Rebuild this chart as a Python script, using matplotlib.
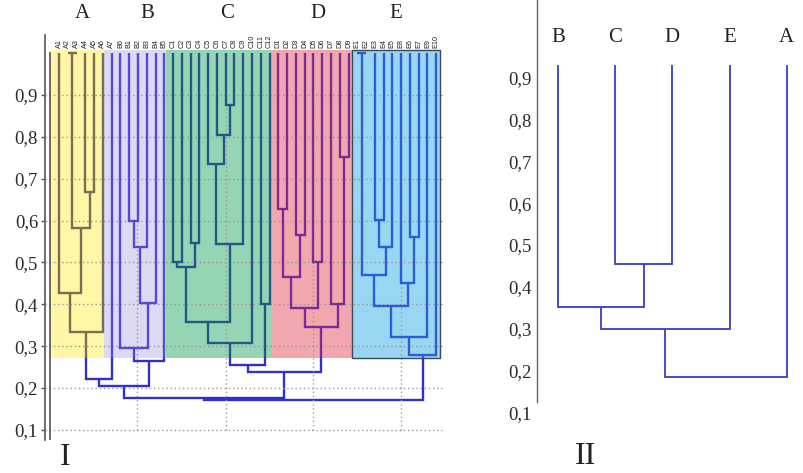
import matplotlib.pyplot as plt
from matplotlib.patches import Rectangle
from matplotlib.transforms import blended_transform_factory

# ---- panel I data ----
leaf_labels = ['A1', 'A2', 'A3', 'A4', 'A5', 'A6', 'A7',
               'B6', 'B1', 'B2', 'B3', 'B4', 'B5',
               'C1', 'C2', 'C3', 'C4', 'C5', 'C6', 'C7', 'C8', 'C9', 'C10', 'C11', 'C12',
               'D1', 'D2', 'D3', 'D4', 'D5', 'D6', 'D7', 'D8', 'D9',
               'E1', 'E2', 'E3', 'E4', 'E5', 'E8', 'E6', 'E7', 'E9', 'E10']

# (node, left, right, similarity); ints are leaf indices
merges_A = [('a1', 1, 2, 1.0), ('a2', 3, 4, 0.667), ('a3', 'a1', 'a2', 0.583),
            ('a4', 0, 'a3', 0.427), ('a5', 'a4', 5, 0.334), ('a6', 'a5', 6, 0.222)]
merges_B = [('b1', 8, 9, 0.600), ('b2', 'b1', 10, 0.537), ('b3', 'b2', 11, 0.404),
            ('b4', 7, 'b3', 0.296), ('b5', 'b4', 12, 0.265), ('ab', 'a6', 'b5', 0.205)]
merges_C = [('c1', 19, 20, 0.876), ('c2', 18, 'c1', 0.805), ('c3', 17, 'c2', 0.735),
            ('c4', 'c3', 21, 0.544), ('c5', 15, 16, 0.547), ('c6', 13, 14, 0.500),
            ('c7', 'c6', 'c5', 0.490), ('c8', 'c7', 'c4', 0.358), ('c9', 'c8', 22, 0.308),
            ('c10', 23, 24, 0.400), ('c11', 'c9', 'c10', 0.254)]
merges_D = [('d1', 25, 26, 0.628), ('d2', 27, 28, 0.565), ('d3', 'd1', 'd2', 0.464),
            ('d4', 29, 30, 0.501), ('d5', 'd3', 'd4', 0.391), ('d6', 32, 33, 0.752),
            ('d7', 31, 'd6', 0.401), ('d8', 'd5', 'd7', 0.345),
            ('cd', 'c11', 'd8', 0.239), ('abcd', 'ab', 'cd', 0.177)]
merges_E = [('e1', 34, 35, 1.0), ('e2', 36, 37, 0.602), ('e3', 'e2', 38, 0.538),
            ('e4', 'e1', 'e3', 0.469), ('e5', 40, 41, 0.561), ('e6', 39, 'e5', 0.452),
            ('e7', 'e4', 'e6', 0.395), ('e8', 'e7', 42, 0.323), ('e9', 'e8', 43, 0.279),
            ('root', 'abcd', 'e9', 0.172)]

group_names = ['A', 'B', 'C', 'D', 'E']

# ---- panel II data ----
leaf_labels_II = ['B', 'C', 'D', 'E', 'A']
merges_II = [('cd', 1, 2, 0.455), ('bcd', 0, 'cd', 0.351),
             ('bcde', 'bcd', 3, 0.299), ('all', 'bcde', 4, 0.185)]

yticks = [0.1, 0.2, 0.3, 0.4, 0.5, 0.6, 0.7, 0.8, 0.9]
ytick_labels = ['0,1', '0,2', '0,3', '0,4', '0,5', '0,6', '0,7', '0,8', '0,9']

SERIF = 'Liberation Serif'


def draw_tree(ax, merges, leaf_top, color, lw, zorder=2, clip=None):
    pos = {}
    hgt = {}

    def get(n):
        if isinstance(n, int):
            return float(n), leaf_top
        return pos[n], hgt[n]

    for name, l, r, h in merges:
        xl, hl = get(l)
        xr, hr = get(r)
        line, = ax.plot([xl, xl, xr, xr], [hl, h, h, hr], color=color, lw=lw,
                        solid_joinstyle='miter', solid_capstyle='butt', zorder=zorder)
        if clip is not None:
            line.set_clip_path(clip)
        pos[name] = (xl + xr) / 2
        hgt[name] = h


fig = plt.figure(figsize=(8.04, 4.73), dpi=100)
W, H = 804, 473

# ---------------- panel I ----------------
ax = fig.add_axes([45 / W, (H - 440) / H, 400 / W, 405 / H])
ax.set_xlim(-1.6, 44.0)
ax.set_ylim(0.076, 1.043)

all_merges = merges_A + merges_B + merges_C + merges_D + merges_E
draw_tree(ax, all_merges, 1.0, '#3030cc', 1.7)

# cluster boxes: (x0, x1, fill, line colour inside)
boxes = [(-1.14, 5.13, '#fff6a6', '#7d6c52'),
         (5.13, 12.2, '#dcdaf0', '#5548dc'),
         (12.2, 24.29, '#95d5b4', '#1f5a86'),
         (24.29, 33.41, '#f2a6ae', '#7a2c94'),
         (33.41, 43.44, '#98d6f2', '#2c5cd6')]
BOX_BOTTOM, BOX_TOP = 0.272, 1.007
for x0, x1, fc, lc in boxes:
    rect = Rectangle((x0, BOX_BOTTOM), x1 - x0, BOX_TOP - BOX_BOTTOM, facecolor=fc,
                     edgecolor='none', zorder=3)
    ax.add_patch(rect)
    draw_tree(ax, all_merges, 1.0, lc, 1.7, zorder=5, clip=rect)
ax.add_patch(Rectangle((33.41, BOX_BOTTOM), 43.44 - 33.41, BOX_TOP - BOX_BOTTOM,
                       fill=False, edgecolor='#3a4a5a', lw=1.0, zorder=6))

for y in yticks:
    ax.plot([-1.6, 43.8], [y, y], color='#9a9a9a', lw=1, ls=(0, (1, 2)), zorder=4)
for x in [8.9, 19.0, 29.0, 39.0]:
    ax.plot([x, x], [0.1, 1.0], color='#9a9a9a', lw=1, ls=(0, (1, 2)), zorder=4)

for i, lab in enumerate(leaf_labels):
    ax.text(i, 1.012, lab, rotation=90, ha='center', va='bottom', fontsize=5.2,
            family='Liberation Sans', color='#222222')

ax.plot([-1.05, -1.05], [0.076, 1.0], color='#555555', lw=1.2, zorder=6)

tr = blended_transform_factory(ax.transData, fig.transFigure)
for g, x in zip(group_names, [2.7, 10.1, 19.2, 29.5, 38.4]):
    fig.text(x, 1 - 14 / H, g, transform=tr, ha='center', va='center',
             fontsize=15, family=SERIF, color='#222222')

ax.set_yticks(yticks)
ax.set_yticklabels(ytick_labels, family=SERIF, fontsize=13.5, color='#2a2a2a')
ax.set_xticks([])
for s in ['top', 'right', 'bottom']:
    ax.spines[s].set_visible(False)
ax.spines['left'].set_color('#555555')
ax.spines['left'].set_linewidth(1.2)
ax.tick_params(axis='y', direction='out', length=3, width=1, color='#555555', pad=2)
ax.patch.set_visible(False)

# ---------------- panel II ----------------
ax2 = fig.add_axes([537 / W, (H - 418.6) / H, (800 - 537) / W, 418.6 / H])
ax2.set_xlim(-0.367, 4.23)
ax2.set_ylim(0.085, 1.0855)
draw_tree(ax2, merges_II, 0.93, '#3a3acc', 1.3)
for i, lab in enumerate(leaf_labels_II):
    ax2.text(i, 0.995, lab, ha='center', va='center', fontsize=15,
             family=SERIF, color='#222222')
ax2.set_yticks(yticks)
ax2.set_yticklabels(ytick_labels, family=SERIF, fontsize=13.5, color='#2a2a2a')
ax2.set_xticks([])
for s in ['top', 'right', 'bottom']:
    ax2.spines[s].set_visible(False)
ax2.spines['left'].set_bounds(0.1247, 1.0855)
ax2.spines['left'].set_color('#666666')
ax2.spines['left'].set_linewidth(1.0)
ax2.tick_params(axis='y', length=0, pad=4)
ax2.patch.set_visible(False)

fig.text(65 / W, 1 - 472 / H, 'I', ha='center', va='bottom', fontsize=23,
         family=SERIF, color='#222222')
fig.text(585 / W, 1 - 471 / H, 'II', ha='center', va='bottom', fontsize=23,
         family=SERIF, color='#222222')

fig.savefig('out.png', dpi=100)
